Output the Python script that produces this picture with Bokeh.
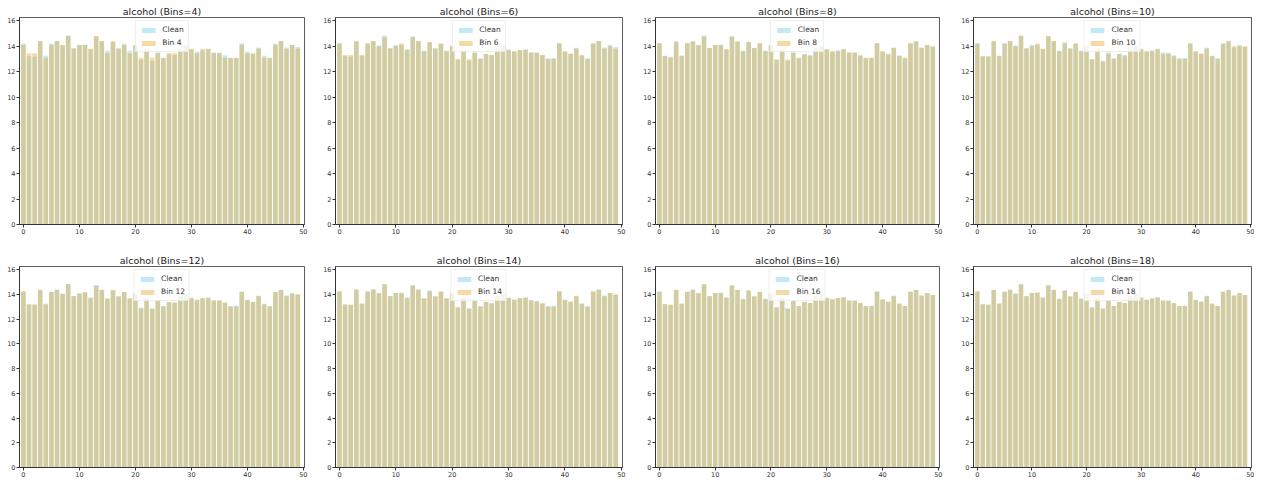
from bokeh.plotting import figure
from bokeh.layouts import column, row
from bokeh.models import Range1d, FixedTicker
from bokeh.embed import file_html
from bokeh.resources import INLINE

# ---- data -------------------------------------------------------------
idx = list(range(50))
clean = [14.23, 13.20, 13.16, 14.37, 13.24, 14.20, 14.39, 14.06, 14.83, 13.86,
         14.10, 14.12, 13.75, 14.75, 14.38, 13.63, 14.30, 13.83, 14.19, 13.64,
         14.06, 12.93, 13.71, 12.85, 13.50, 13.05, 13.39, 13.30, 13.87, 14.02,
         13.73, 13.58, 13.68, 13.76, 13.51, 13.48, 13.28, 13.05, 13.07, 14.22,
         13.56, 13.41, 13.88, 13.24, 13.05, 14.21, 14.38, 13.90, 14.10, 13.94]

bins_n = [4, 6, 8, 10, 12, 14, 16, 18]

bin4 = [14.10, 13.45, 13.45, 14.40, 13.10, 14.10, 14.40, 14.10, 14.80, 13.80,
        14.10, 14.10, 13.80, 14.80, 14.40, 13.45, 14.40, 13.80, 14.10, 13.45,
        14.10, 13.10, 13.80, 13.10, 13.45, 13.10, 13.45, 13.45, 13.80, 14.10,
        13.80, 13.45, 13.80, 13.80, 13.45, 13.45, 13.10, 13.10, 13.10, 14.10,
        13.45, 13.45, 13.80, 13.10, 13.10, 14.10, 14.40, 13.80, 14.10, 13.80]
bin6 = [14.20, 13.30, 13.30, 14.40, 13.30, 14.20, 14.40, 14.00, 14.70, 13.80,
        14.00, 14.20, 13.70, 14.70, 14.40, 13.60, 14.30, 13.80, 14.20, 13.60,
        14.00, 13.00, 13.70, 13.00, 13.50, 13.00, 13.40, 13.30, 13.80, 14.00,
        13.70, 13.60, 13.70, 13.70, 13.50, 13.50, 13.30, 13.00, 13.00, 14.20,
        13.60, 13.40, 13.80, 13.30, 13.00, 14.20, 14.40, 13.80, 14.00, 13.80]
bin8 = [14.25, 13.25, 13.10, 14.35, 13.25, 14.25, 14.35, 14.10, 14.75, 13.85,
        14.10, 14.10, 13.75, 14.75, 14.35, 13.60, 14.35, 13.85, 14.25, 13.60,
        14.10, 12.95, 13.75, 12.95, 13.50, 13.10, 13.35, 13.25, 13.85, 14.00,
        13.75, 13.60, 13.60, 13.75, 13.50, 13.50, 13.25, 13.10, 13.10, 14.25,
        13.60, 13.35, 13.85, 13.25, 13.10, 14.25, 14.35, 13.85, 14.10, 14.00]
bin10 = [14.20, 13.20, 13.20, 14.40, 13.20, 14.20, 14.40, 14.00, 14.80, 13.80,
         14.00, 14.20, 13.80, 14.80, 14.40, 13.60, 14.20, 13.80, 14.20, 13.60,
         14.00, 13.00, 13.80, 12.80, 13.40, 13.00, 13.40, 13.20, 13.80, 14.00,
         13.80, 13.60, 13.60, 13.80, 13.40, 13.40, 13.20, 13.00, 13.00, 14.20,
         13.60, 13.40, 13.80, 13.20, 13.00, 14.20, 14.40, 14.00, 14.00, 14.00]
bin12 = [14.22, 13.18, 13.18, 14.35, 13.18, 14.18, 14.35, 14.02, 14.82, 13.85,
         14.02, 14.18, 13.68, 14.68, 14.35, 13.68, 14.35, 13.85, 14.18, 13.68,
         14.02, 12.85, 13.68, 12.85, 13.52, 13.02, 13.35, 13.35, 13.85, 14.02,
         13.68, 13.52, 13.68, 13.68, 13.52, 13.52, 13.35, 13.02, 13.02, 14.18,
         13.52, 13.35, 13.85, 13.18, 13.02, 14.18, 14.35, 13.85, 14.02, 14.02]
bin14 = [14.25, 13.15, 13.15, 14.40, 13.25, 14.25, 14.40, 14.10, 14.80, 13.85,
         14.10, 14.10, 13.70, 14.70, 14.40, 13.70, 14.25, 13.85, 14.25, 13.70,
         14.10, 12.95, 13.70, 12.85, 13.55, 13.00, 13.40, 13.25, 13.85, 14.00,
         13.70, 13.55, 13.70, 13.70, 13.55, 13.40, 13.25, 13.00, 13.00, 14.25,
         13.55, 13.40, 13.85, 13.25, 13.00, 14.25, 14.40, 13.85, 14.10, 14.00]
bin16 = [14.20, 13.20, 13.15, 14.35, 13.25, 14.20, 14.35, 14.10, 14.80, 13.85,
         14.10, 14.10, 13.75, 14.70, 14.35, 13.60, 14.30, 13.85, 14.20, 13.60,
         14.10, 12.95, 13.70, 12.85, 13.50, 13.05, 13.40, 13.30, 13.85, 14.00,
         13.70, 13.60, 13.70, 13.75, 13.50, 13.50, 13.30, 13.05, 13.05, 14.20,
         13.60, 13.40, 13.85, 13.25, 13.05, 14.20, 14.35, 13.90, 14.10, 13.95]
bin18 = [14.25, 13.20, 13.15, 14.35, 13.25, 14.20, 14.35, 14.05, 14.80, 13.85,
         14.10, 14.15, 13.75, 14.70, 14.35, 13.65, 14.30, 13.85, 14.20, 13.65,
         14.05, 12.95, 13.70, 12.85, 13.50, 13.05, 13.40, 13.30, 13.85, 14.00,
         13.75, 13.55, 13.65, 13.75, 13.50, 13.50, 13.30, 13.05, 13.05, 14.20,
         13.55, 13.40, 13.85, 13.25, 13.05, 14.20, 14.35, 13.90, 14.10, 13.95]

binned = [bin4, bin6, bin8, bin10, bin12, bin14, bin16, bin18]
x_ticks = [0, 10, 20, 30, 40, 50]
y_ticks = [0, 2, 4, 6, 8, 10, 12, 14, 16]

# ---- styling ----------------------------------------------------------
FONT = "DejaVu Sans"
CLEAN_C = "#6fcbe6"
BIN_C = "#e8a52c"

col_left = [19, 16, 18, 18]
col_frame = [285, 287, 284, 278]
col_right = [15, 15, 16, 3]
row_top = [17, 26]
row_frame = [207, 201]
row_bottom = [16, 13]


def make_panel(k, vals, r, c):
    p = figure(
        frame_width=col_frame[c], frame_height=row_frame[r],
        min_border_left=col_left[c], min_border_right=col_right[c],
        min_border_top=row_top[r], min_border_bottom=row_bottom[r],
        x_range=Range1d(-0.7, 50.2), y_range=Range1d(0, 16.25),
        output_backend="svg", toolbar_location=None,
        title=f"alcohol (Bins={k})",
    )
    p.title.align = "center"
    p.title.text_font = FONT
    p.title.text_font_size = "9.5px"
    p.title.text_font_style = "normal"
    p.title.text_color = "#222222"
    p.title.standoff = 2

    p.vbar(x=idx, top=clean, width=0.82, fill_color=CLEAN_C, fill_alpha=0.42,
           line_color=None, legend_label="Clean")
    p.vbar(x=idx, top=vals, width=0.82, fill_color=BIN_C, fill_alpha=0.42,
           line_color=None, legend_label=f"Bin {k}")

    p.xgrid.visible = False
    p.ygrid.visible = False
    p.outline_line_color = "#333333"
    p.outline_line_width = 0.8
    p.background_fill_color = "white"

    for ax, ticks in ((p.xaxis, x_ticks), (p.yaxis, y_ticks)):
        ax.ticker = FixedTicker(ticks=ticks)
        ax.minor_tick_line_color = None
        ax.major_tick_in = 0
        ax.major_tick_out = 3
        ax.major_tick_line_color = "#333333"
        ax.axis_line_color = "#333333"
        ax.major_label_text_font = FONT
        ax.major_label_text_font_size = "6.5px"
        ax.major_label_text_color = "#333333"
        ax.major_label_standoff = 1

    lg = p.legend[0]
    lg.location = "top_center"
    lg.label_text_font = FONT
    lg.label_text_font_size = "7.5px"
    lg.label_text_color = "#333333"
    lg.glyph_width = 17
    lg.glyph_height = 6
    lg.label_height = 9
    lg.label_standoff = 6
    lg.spacing = 4
    lg.padding = 4
    lg.margin = 3
    lg.border_line_color = "#dddddd"
    lg.background_fill_alpha = 0.8
    return p


rows = []
for r in range(2):
    figs = []
    for c in range(4):
        i = r * 4 + c
        figs.append(make_panel(bins_n[i], binned[i], r, c))
    rows.append(row(*figs, spacing=0))

layout = column(*rows, spacing=0)
open("out.html", "w").write(file_html(layout, INLINE))
